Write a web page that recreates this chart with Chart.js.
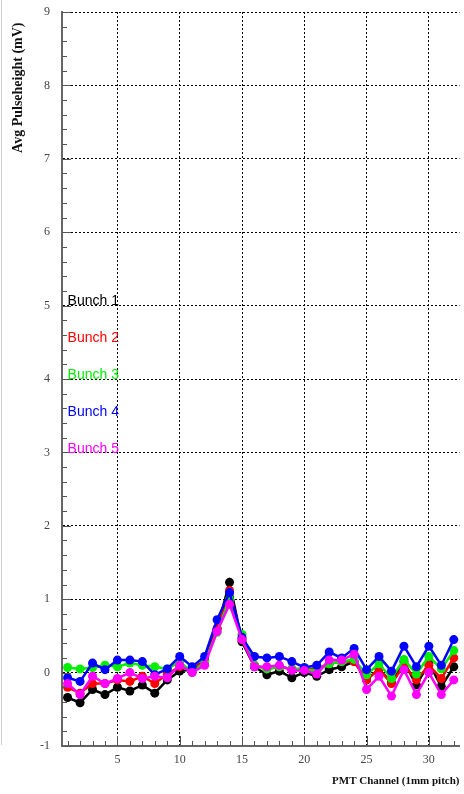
<!DOCTYPE html>
<html>
<head>
<meta charset="utf-8">
<script src="https://cdn.jsdelivr.net/npm/chart.js@4"></script>
<style>
  html, body { margin: 0; padding: 0; background: #fff; }
  #wrap { position: relative; width: 464px; height: 794px; }
  #edge { position: absolute; left: 1px; top: 0; width: 1px; height: 745px; background: #d0d0d0; }
</style>
</head>
<body>
<div id="wrap">
  <canvas id="chart" width="464" height="794"></canvas>
  <div id="edge"></div>
</div>
<script>
const channels = [1, 2, 3, 4, 5, 6, 7, 8, 9, 10, 11, 12, 13, 14, 15, 16,
                  17, 18, 19, 20, 21, 22, 23, 24, 25, 26, 27, 28, 29, 30, 31, 32];
const bunch1 = [-0.34, -0.41, -0.23, -0.30, -0.20, -0.25, -0.17, -0.28, -0.10, 0.02, 0.04, 0.17, 0.60, 1.23, 0.42, 0.08,
                -0.03, 0.02, -0.07, 0.00, -0.05, 0.04, 0.08, 0.15, -0.10, 0.05, -0.14, 0.15, -0.17, 0.13, -0.19, 0.08];
const bunch2 = [-0.20, -0.28, -0.15, -0.15, -0.10, -0.12, -0.05, -0.15, -0.02, 0.08, 0.05, 0.15, 0.60, 1.12, 0.45, 0.10,
                0.05, 0.08, 0.05, 0.05, 0.05, 0.12, 0.15, 0.15, -0.10, 0.05, -0.15, 0.10, -0.10, 0.10, -0.08, 0.20];
const bunch3 = [0.07, 0.05, 0.07, 0.10, 0.08, 0.13, 0.10, 0.08, 0.05, 0.15, 0.00, 0.15, 0.55, 1.00, 0.52, 0.10,
                0.05, 0.08, 0.05, 0.05, 0.02, 0.12, 0.15, 0.18, -0.03, 0.12, -0.08, 0.18, -0.02, 0.22, 0.05, 0.30];
const bunch4 = [-0.07, -0.12, 0.13, 0.04, 0.17, 0.17, 0.15, -0.03, 0.05, 0.22, 0.08, 0.22, 0.72, 1.09, 0.48, 0.22,
                0.20, 0.22, 0.15, 0.07, 0.10, 0.28, 0.20, 0.33, 0.04, 0.22, 0.02, 0.36, 0.08, 0.36, 0.10, 0.45];
const bunch5 = [-0.15, -0.30, -0.05, -0.15, -0.08, 0.00, -0.08, -0.05, -0.07, 0.10, 0.00, 0.10, 0.56, 0.93, 0.45, 0.08,
                0.08, 0.10, 0.03, 0.03, -0.02, 0.17, 0.17, 0.25, -0.23, -0.05, -0.32, 0.04, -0.30, 0.00, -0.30, -0.10];

const seriesNames = ['Bunch 1', 'Bunch 2', 'Bunch 3', 'Bunch 4', 'Bunch 5'];
const seriesValues = [bunch1, bunch2, bunch3, bunch4, bunch5];
const seriesColors = ['#000000', '#ff0000', '#00ee00', '#0000ff', '#ff00ff'];
// where the ROOT-style legend texts sit, in data units
const legendX = 1.0;
const legendY = [5.06, 4.56, 4.05, 3.55, 3.05];

const xMajor = [5, 10, 15, 20, 25, 30];

const datasets = seriesValues.map(function (vals, i) {
    return {
        label: seriesNames[i],
        data: channels.map(function (c, j) { return { x: c, y: vals[j] }; }),
        borderColor: seriesColors[i],
        backgroundColor: seriesColors[i],
        borderWidth: 2.5,
        pointRadius: 4.5,
        pointBorderWidth: 0,
        tension: 0,
        order: 5 - i
    };
});

// draws inward ticks (ROOT style) and the legend text
const rootDecor = {
    id: 'rootDecor',
    afterDraw: function (chart) {
        const c = chart.ctx;
        const xs = chart.scales.x;
        const ys = chart.scales.y;
        const area = chart.chartArea;
        c.save();
        c.strokeStyle = '#555';
        c.lineWidth = 1;
        c.beginPath();
        for (let v = -1; v <= 9.001; v += 0.2) {
            const py = Math.round(ys.getPixelForValue(v)) + 0.5;
            const major = Math.abs(v - Math.round(v)) < 0.01;
            c.moveTo(area.left, py);
            c.lineTo(area.left + (major ? 9 : 5), py);
        }
        for (let v = 1; v <= 32; v++) {
            const px = Math.round(xs.getPixelForValue(v)) + 0.5;
            const major = v % 5 === 0;
            c.moveTo(px, area.bottom);
            c.lineTo(px, area.bottom - (major ? 10 : 5));
        }
        c.stroke();

        c.font = '14px "Liberation Sans", Arial, sans-serif';
        c.textBaseline = 'middle';
        c.textAlign = 'left';
        seriesNames.forEach(function (name, i) {
            c.fillStyle = seriesColors[i];
            c.fillText(name, xs.getPixelForValue(legendX), ys.getPixelForValue(legendY[i]));
        });
        c.restore();
    }
};

const ctx = document.getElementById('chart').getContext('2d');
const chart = new Chart(ctx, {
    type: 'line',
    data: { datasets: datasets },
    plugins: [rootDecor],
    options: {
        responsive: false,
        animation: false,
        layout: { padding: { top: 12, right: 0, left: 0, bottom: 0 } },
        plugins: {
            legend: { display: false },
            tooltip: { enabled: false }
        },
        scales: {
            x: {
                type: 'linear',
                min: 0.55,
                max: 32.46,
                afterBuildTicks: function (scale) {
                    scale.ticks = xMajor.map(function (v) { return { value: v }; });
                },
                afterFit: function (scale) {
                    scale.height = 48;
                    scale.paddingLeft = 0;
                    scale.paddingRight = 0;
                },
                ticks: {
                    padding: 7,
                    color: '#444',
                    font: { family: '"Liberation Serif", "Times New Roman", serif', size: 12 }
                },
                grid: {
                    color: '#000',
                    lineWidth: 1,
                    drawTicks: false
                },
                border: { display: true, color: '#666', width: 2, dash: [2, 2] },
                title: {
                    display: true,
                    text: 'PMT Channel (1mm pitch)',
                    align: 'end',
                    color: '#111',
                    padding: { top: 0, bottom: 6 },
                    font: { family: '"Liberation Serif", "Times New Roman", serif', size: 11, weight: 'bold' }
                }
            },
            y: {
                type: 'linear',
                min: -1,
                max: 9,
                ticks: {
                    stepSize: 1,
                    padding: 12,
                    color: '#444',
                    font: { family: '"Liberation Serif", "Times New Roman", serif', size: 12 }
                },
                afterFit: function (scale) {
                    scale.width = 62;
                    scale.paddingTop = 0;
                    scale.paddingBottom = 0;
                },
                grid: {
                    color: '#000',
                    lineWidth: 1,
                    drawTicks: false
                },
                border: { display: true, color: '#666', width: 2, dash: [2, 2] },
                title: {
                    display: true,
                    text: 'Avg Pulseheight (mV)   ',
                    align: 'end',
                    color: '#111',
                    padding: { top: 10, bottom: 0 },
                    font: { family: '"Liberation Serif", "Times New Roman", serif', size: 14, weight: 'bold' }
                }
            }
        }
    }
});
</script>
</body>
</html>
